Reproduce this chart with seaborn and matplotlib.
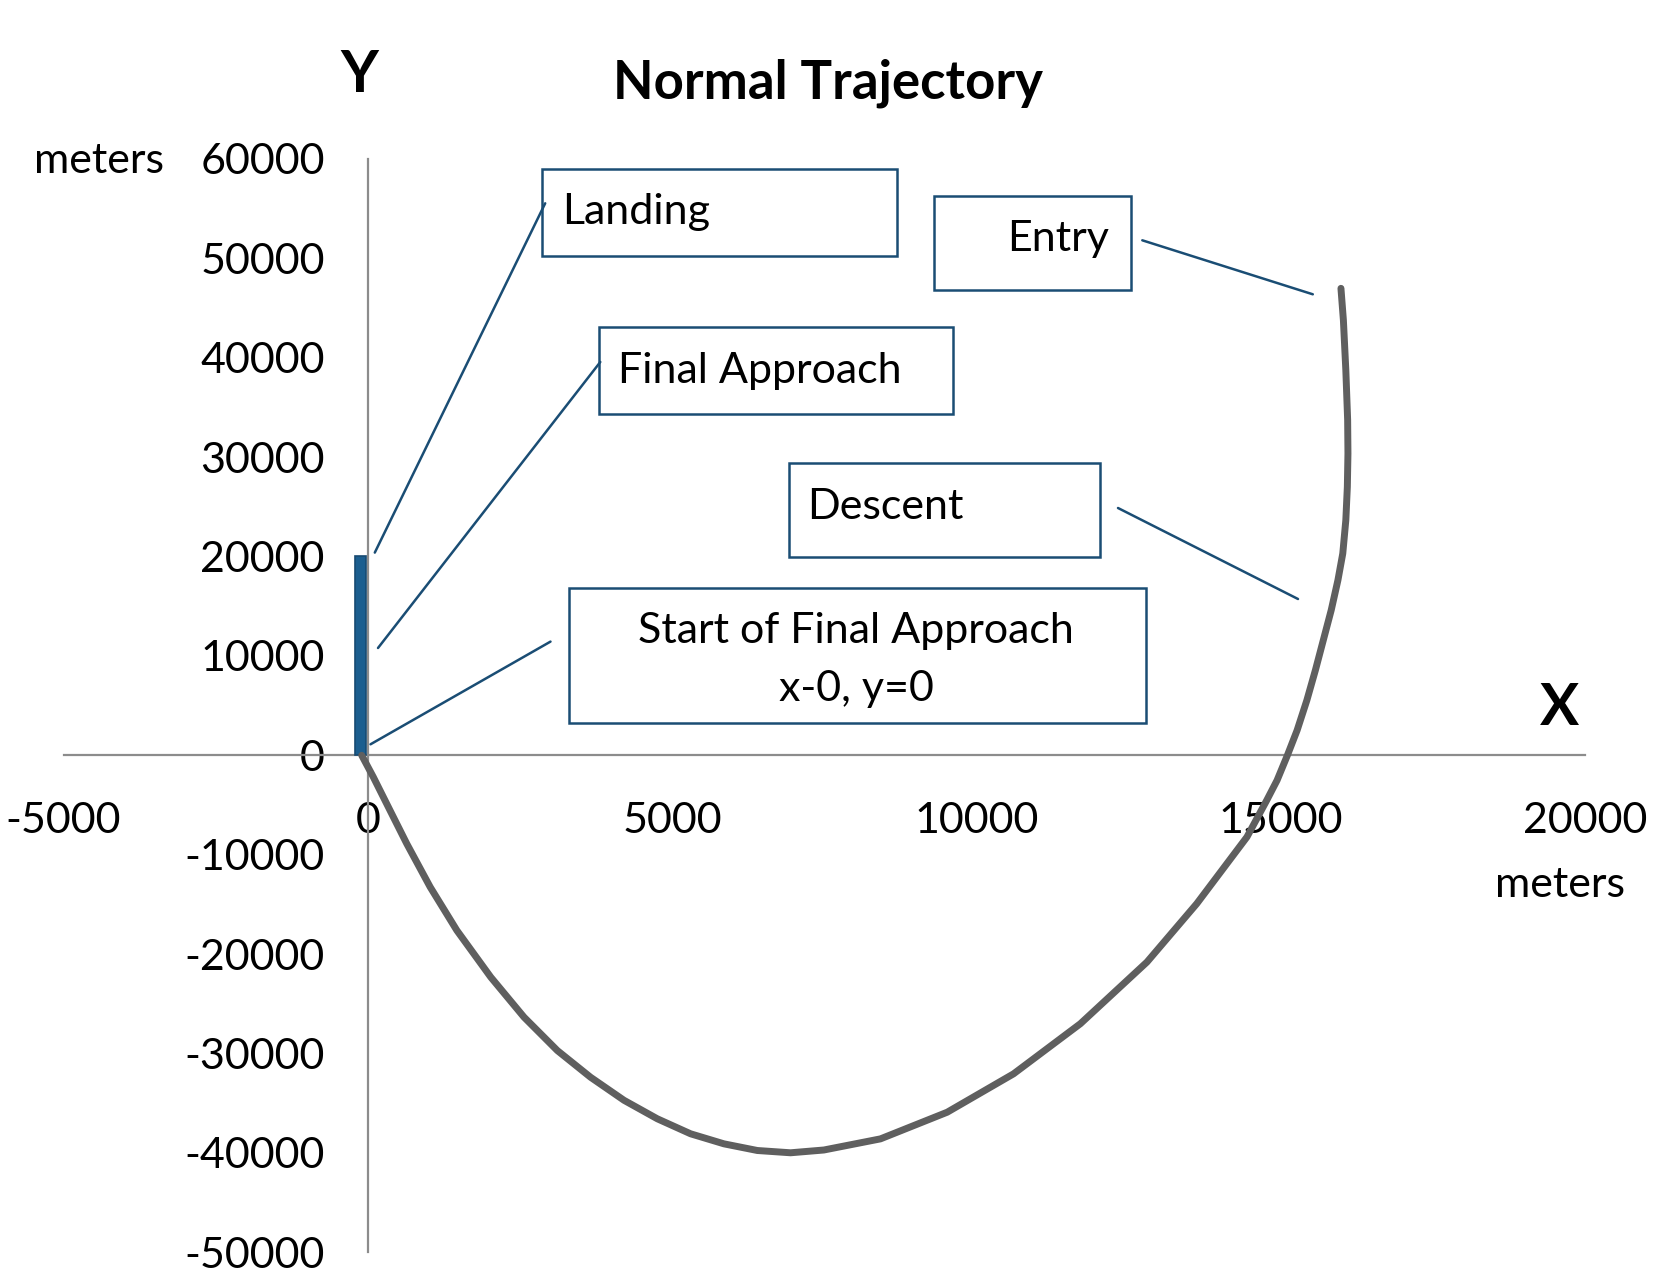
import matplotlib
matplotlib.use("Agg")
import matplotlib.pyplot as plt
import pandas as pd
import seaborn as sns
from matplotlib.patches import Rectangle
from matplotlib.lines import Line2D

# ---- data ----
traj_x = [-100, 90, 365, 640, 1025, 1463, 2020, 2567, 3115, 3660, 4210, 4757,
          5304, 5852, 6400, 6946, 7494, 8424, 9520, 10610, 11708, 12802,
          13620, 14445, 14770, 14940, 15110, 15270, 15430, 15570, 15700,
          15830, 15940, 16020, 16070, 16095, 16105, 16100, 16070, 16030, 15990]
traj_y = [0, -2180, -5540, -8890, -13250, -17610, -22310, -26340, -29700,
          -32380, -34700, -36560, -38070, -39080, -39750, -39980, -39700,
          -38580, -35900, -32040, -27000, -20800, -14930, -8220, -4530,
          -2520, 0, 2520, 5540, 8560, 11580, 14600, 17610, 20300, 23650,
          27000, 30360, 33720, 38750, 43780, 46970]
bar_x = [-120]
bar_h = [20000]
x_ticks = [-5000, 0, 5000, 10000, 15000, 20000]
y_ticks = [-50000, -40000, -30000, -20000, -10000, 0,
           10000, 20000, 30000, 40000, 50000, 60000]
title = "Normal Trajectory"
box_labels = ["Landing", "Final Approach", "Entry", "Descent",
              "Start of Final Approach", "x-0, y=0"]

sns.set_theme(style="white")
plt.rcParams['font.family'] = ['Lato', 'DejaVu Sans']
plt.rcParams['text.color'] = 'black'
plt.rcParams['axes.labelcolor'] = 'black'
plt.rcParams['xtick.color'] = 'black'
plt.rcParams['ytick.color'] = 'black'

W, H = 1660, 1288
fig = plt.figure(figsize=(W / 100, H / 100), dpi=100)
fig.patch.set_facecolor("white")


def F(x, y):
    return (x / W, 1 - y / H)


ax_l, ax_r, ax_t, ax_b = 63.5, 1585, 158.8, 1252.4
ax = fig.add_axes([ax_l / W, 1 - ax_b / H, (ax_r - ax_l) / W, (ax_b - ax_t) / H])
ax.set_facecolor("white")

df = pd.DataFrame({"x": traj_x, "y": traj_y})
sns.lineplot(data=df, x="x", y="y", sort=False, estimator=None, ax=ax,
             color="#5f5f5f", zorder=4)
for ln in ax.lines:
    ln.set_linewidth(5.0)
    ln.set_solid_capstyle("round")
    ln.set_solid_joinstyle("round")
ax.bar(bar_x, bar_h, width=190, color="#1B5E8F", edgecolor="#174A72",
       linewidth=1.2, zorder=3)

ax.set_xlim(-5000, 20000)
ax.set_ylim(-50000, 60000)
for s in ["top", "right"]:
    ax.spines[s].set_visible(False)
ax.spines["left"].set_position(("data", 0))
ax.spines["bottom"].set_position(("data", 0))
for s in ["left", "bottom"]:
    ax.spines[s].set_color("#8c8c8c")
    ax.spines[s].set_linewidth(1.6)
ax.set_xticks(x_ticks)
ax.set_xticklabels([str(v) for v in x_ticks])
ax.set_yticks(y_ticks)
ax.set_yticklabels([str(v) for v in y_ticks])
ax.tick_params(length=0, labelsize=31, labelcolor="black")
ax.tick_params(axis="x", pad=33.5)
ax.tick_params(axis="y", pad=31)
ax.set_xlabel("")
ax.set_ylabel("")

# ---- titles and axis words ----
fig.text(*F(827.5, 98.3), title, ha="center", va="baseline",
         fontsize=38, fontweight="bold")
fig.text(*F(359, 91.7), "Y", ha="center", va="baseline", fontsize=42, fontweight="bold")
fig.text(*F(1559, 725), "X", ha="center", va="baseline", fontsize=42, fontweight="bold")
fig.text(*F(99, 172.7), "meters", ha="center", va="baseline", fontsize=31)
fig.text(*F(1560, 896.7), "meters", ha="center", va="baseline", fontsize=31)

# ---- callout boxes ----
edge = "#1A4D74"
boxes = [(542, 169, 897, 256), (599, 327, 953, 414), (934, 196, 1131, 290),
         (789, 463, 1100, 557), (569, 588, 1146, 723)]
for (x0, y0, x1, y1) in boxes:
    fig.add_artist(Rectangle(F(x0, y1), (x1 - x0) / W, (y1 - y0) / H,
                             transform=fig.transFigure, fill=False,
                             edgecolor=edge, linewidth=1.8))

fig.text(*F(562, 223.8), box_labels[0], ha="left", va="baseline", fontsize=31)
fig.text(*F(618, 382.7), box_labels[1], ha="left", va="baseline", fontsize=31)
fig.text(*F(1109, 250.8), box_labels[2], ha="right", va="baseline", fontsize=31)
fig.text(*F(807, 519.2), box_labels[3], ha="left", va="baseline", fontsize=31)
fig.text(*F(856, 643.5), box_labels[4], ha="center", va="baseline", fontsize=31)
fig.text(*F(856, 700.8), box_labels[5], ha="center", va="baseline", fontsize=31)

leaders = [((374.8, 552.6), (545.2, 203.3)),
           ((378, 648), (600.3, 362)),
           ((370.5, 744.3), (550.5, 641.6)),
           ((1142.3, 240.3), (1312.8, 294.3)),
           ((1118, 508), (1298, 599))]
for p, q in leaders:
    a, b = F(*p), F(*q)
    fig.add_artist(Line2D([a[0], b[0]], [a[1], b[1]], transform=fig.transFigure,
                          color=edge, linewidth=1.8))

fig.savefig("out.png", dpi=100, facecolor="white")
